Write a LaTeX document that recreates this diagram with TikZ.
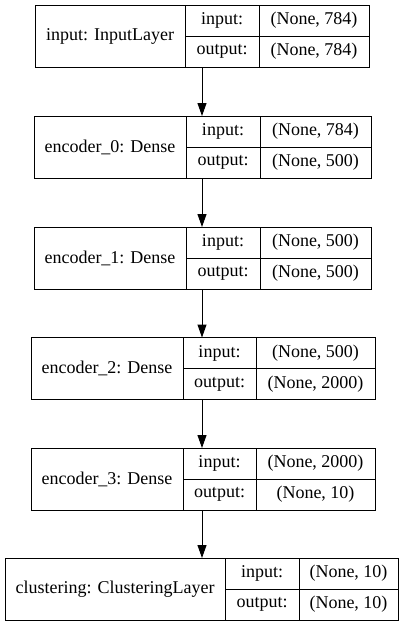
\documentclass[tikz,border=0pt]{standalone}
\usepackage{fontspec}
\setmainfont{Liberation Serif}
\usetikzlibrary{positioning, arrows.meta}

\tikzset{
	cell/.style={rectangle, draw, line width=1pt, inner sep=0pt, outer sep=0pt, text centered,
	font=\fontsize{18}{21}\selectfont},
	frame/.style={rectangle, draw, line width=1pt, inner sep=0pt, outer sep=0pt,
	minimum height=62pt},
	flow/.style={line width=1pt, -{Triangle[length=13pt, width=9pt]}}
}

\begin{document}
\begin{tikzpicture}[x=1pt, y=-1pt]
			
			\useasboundingbox (0,0) rectangle (405,627);
			
			%Layers
			\node (inputLayer) at (202,36) [frame, minimum width=334pt] {};
			\node (inputName) at (110,36) [cell, minimum width=150pt, minimum height=62pt] {input: InputLayer};
			\node (inputIn) at (222,20.5) [cell, minimum width=74pt, minimum height=31pt] {input:};
			\node (inputOut) at (222,51.5) [cell, minimum width=74pt, minimum height=31pt] {output:};
			\node (inputInShape) at (314,20.5) [cell, minimum width=110pt, minimum height=31pt] {(None, 784)};
			\node (inputOutShape) at (314,51.5) [cell, minimum width=110pt, minimum height=31pt] {(None, 784)};
			
			\node (encoderZero) at (202.5,147) [frame, minimum width=337pt] {};
			\node (encoderZeroName) at (110,147) [cell, minimum width=152pt, minimum height=62pt] {encoder\_0: Dense};
			\node (encoderZeroIn) at (223,131.5) [cell, minimum width=74pt, minimum height=31pt] {input:};
			\node (encoderZeroOut) at (223,162.5) [cell, minimum width=74pt, minimum height=31pt] {output:};
			\node (encoderZeroInShape) at (315.5,131.5) [cell, minimum width=111pt, minimum height=31pt] {(None, 784)};
			\node (encoderZeroOutShape) at (315.5,162.5) [cell, minimum width=111pt, minimum height=31pt] {(None, 500)};
			
			\node (encoderOne) at (202.5,258) [frame, minimum width=337pt] {};
			\node (encoderOneName) at (110,258) [cell, minimum width=152pt, minimum height=62pt] {encoder\_1: Dense};
			\node (encoderOneIn) at (223,242.5) [cell, minimum width=74pt, minimum height=31pt] {input:};
			\node (encoderOneOut) at (223,273.5) [cell, minimum width=74pt, minimum height=31pt] {output:};
			\node (encoderOneInShape) at (315.5,242.5) [cell, minimum width=111pt, minimum height=31pt] {(None, 500)};
			\node (encoderOneOutShape) at (315.5,273.5) [cell, minimum width=111pt, minimum height=31pt] {(None, 500)};
			
			\node (encoderTwo) at (203,368.5) [frame, minimum width=344pt] {};
			\node (encoderTwoName) at (107,368.5) [cell, minimum width=152pt, minimum height=62pt] {encoder\_2: Dense};
			\node (encoderTwoIn) at (219.5,353) [cell, minimum width=73pt, minimum height=31pt] {input:};
			\node (encoderTwoOut) at (219.5,384) [cell, minimum width=73pt, minimum height=31pt] {output:};
			\node (encoderTwoInShape) at (315.5,353) [cell, minimum width=119pt, minimum height=31pt] {(None, 500)};
			\node (encoderTwoOutShape) at (315.5,384) [cell, minimum width=119pt, minimum height=31pt] {(None, 2000)};
			
			\node (encoderThree) at (203,479) [frame, minimum width=344pt] {};
			\node (encoderThreeName) at (107,479) [cell, minimum width=152pt, minimum height=62pt] {encoder\_3: Dense};
			\node (encoderThreeIn) at (219.5,463.5) [cell, minimum width=73pt, minimum height=31pt] {input:};
			\node (encoderThreeOut) at (219.5,494.5) [cell, minimum width=73pt, minimum height=31pt] {output:};
			\node (encoderThreeInShape) at (315.5,463.5) [cell, minimum width=119pt, minimum height=31pt] {(None, 2000)};
			\node (encoderThreeOutShape) at (315.5,494.5) [cell, minimum width=119pt, minimum height=31pt] {(None, 10)};
			
			\node (clustering) at (201.5,589) [frame, minimum width=393pt] {};
			\node (clusteringName) at (115,589) [cell, minimum width=220pt, minimum height=62pt] {clustering: ClusteringLayer};
			\node (clusteringIn) at (262,573.5) [cell, minimum width=74pt, minimum height=31pt] {input:};
			\node (clusteringOut) at (262,604.5) [cell, minimum width=74pt, minimum height=31pt] {output:};
			\node (clusteringInShape) at (348.5,573.5) [cell, minimum width=99pt, minimum height=31pt] {(None, 10)};
			\node (clusteringOutShape) at (348.5,604.5) [cell, minimum width=99pt, minimum height=31pt] {(None, 10)};
			
			%Links
			\draw [flow] (inputLayer.south) -- (encoderZero.north -| inputLayer.south);
			\draw [flow] (encoderZero.south -| inputLayer.south) -- (encoderOne.north -| inputLayer.south);
			\draw [flow] (encoderOne.south -| inputLayer.south) -- (encoderTwo.north -| inputLayer.south);
			\draw [flow] (encoderTwo.south -| inputLayer.south) -- (encoderThree.north -| inputLayer.south);
			\draw [flow] (encoderThree.south -| inputLayer.south) -- (clustering.north -| inputLayer.south);
			
			\end{tikzpicture}
\end{document}
